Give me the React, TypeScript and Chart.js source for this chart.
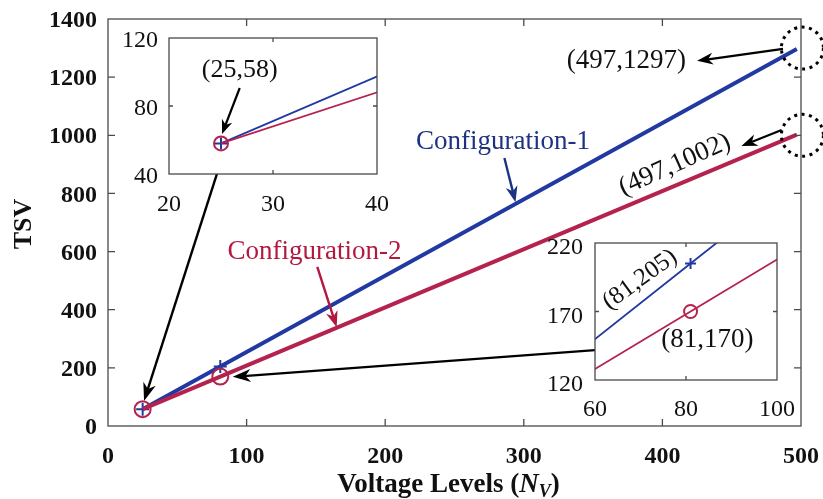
import React, { useEffect, useRef } from "react";
import { Chart, registerables } from "chart.js";

Chart.register(...registerables);

// ---- data ----
const seriesNames = ["Configuration-1", "Configuration-2"];
const voltageLevels = [25, 81, 497];
const tsvConfig1 = [58, 205, 1297];
const tsvConfig2 = [58, 170, 1002];
const markerShown = [true, true, false];

const mainXTicks = [0, 100, 200, 300, 400, 500];
const mainYTicks = [0, 200, 400, 600, 800, 1000, 1200, 1400];
const inset1XTicks = [20, 30, 40];
const inset1YTicks = [40, 80, 120];
const inset2XTicks = [60, 80, 100];
const inset2YTicks = [120, 170, 220];

const xTitle = "Voltage Levels (";
const xTitleVar = "N";
const xTitleSub = "V";
const yTitle = "TSV";

// ---- styles ----
const BLUE = "#2139a0";
const RED = "#b4224d";
const BLUE_TEXT = "#1d3283";
const RED_TEXT = "#b3183e";
const SERIF = '"Liberation Serif", "Times New Roman", serif';
const FRAME = "#4a4a4a";

const pt = (i: number, ys: number[]) => `(${voltageLevels[i]},${ys[i]})`;

function drawArrow(ctx: CanvasRenderingContext2D, x1: number, y1: number, x2: number, y2: number, color: string, lw: number, hl: number, hw: number) {
  const a = Math.atan2(y2 - y1, x2 - x1);
  const c = Math.cos(a), s = Math.sin(a);
  ctx.save();
  ctx.strokeStyle = color;
  ctx.fillStyle = color;
  ctx.lineWidth = lw;
  ctx.beginPath();
  ctx.moveTo(x1, y1);
  ctx.lineTo(x2 - c * hl * 0.6, y2 - s * hl * 0.6);
  ctx.stroke();
  const bx = x2 - c * hl, by = y2 - s * hl;
  ctx.beginPath();
  ctx.moveTo(x2, y2);
  ctx.lineTo(bx - s * hw / 2, by + c * hw / 2);
  ctx.lineTo(x2 - c * hl * 0.7, y2 - s * hl * 0.7);
  ctx.lineTo(bx + s * hw / 2, by - c * hw / 2);
  ctx.closePath();
  ctx.fill();
  ctx.restore();
}

type Note =
  | { kind: "text"; x: number; y: number; text: string; size: number; color: string; rot?: number }
  | { kind: "arrow"; x1: number; y1: number; x2: number; y2: number; color: string; lw: number; hl: number; hw: number }
  | { kind: "ring"; x: number; y: number; r: number };

const mainNotes: Note[] = [
  { kind: "text", x: 374, y: 1256, text: pt(2, tsvConfig1), size: 27, color: "#111" },
  { kind: "arrow", x1: 487, y1: 1297, x2: 425, y2: 1256, color: "#000", lw: 2.2, hl: 16, hw: 12 },
  { kind: "ring", x: 501, y: 1300, r: 21 },
  { kind: "ring", x: 501, y: 1000, r: 21 },
  { kind: "text", x: 409, y: 898, text: pt(2, tsvConfig2), size: 27, color: "#111", rot: -24 },
  { kind: "arrow", x1: 486, y1: 1018, x2: 457, y2: 963, color: "#000", lw: 2.2, hl: 16, hw: 12 },
  { kind: "text", x: 285, y: 977, text: seriesNames[0], size: 27, color: BLUE_TEXT },
  { kind: "arrow", x1: 286, y1: 922, x2: 294, y2: 770, color: BLUE_TEXT, lw: 2.4, hl: 16, hw: 12 },
  { kind: "text", x: 149, y: 598, text: seriesNames[1], size: 27, color: RED_TEXT },
  { kind: "arrow", x1: 151, y1: 547, x2: 165, y2: 340, color: RED_TEXT, lw: 2.4, hl: 16, hw: 12 },
  { kind: "arrow", x1: 78.6, y1: 867, x2: 26, y2: 86, color: "#000", lw: 2.4, hl: 18, hw: 13 },
  { kind: "arrow", x1: 351.4, y1: 261, x2: 90, y2: 169, color: "#000", lw: 2.4, hl: 18, hw: 13 },
];

const inset1Notes: Note[] = [
  { kind: "text", x: 26.8, y: 101, text: pt(0, tsvConfig1), size: 26, color: "#111" },
  { kind: "arrow", x1: 26.8, y1: 90.6, x2: 25.1, y2: 63.6, color: "#000", lw: 2.2, hl: 14, hw: 11 },
];

const inset2Notes: Note[] = [
  { kind: "text", x: 69.9, y: 193.2, text: pt(1, tsvConfig1), size: 25, color: "#111", rot: -36 },
  { kind: "text", x: 84.7, y: 149.3, text: pt(1, tsvConfig2), size: 27, color: "#111" },
];

function makePlugin(notes: Note[], tickLen: number, fillBg: boolean, titles: boolean) {
  return {
    id: "decor",
    beforeDraw(chart: any) {
      if (!fillBg) return;
      const { ctx, chartArea: a } = chart;
      ctx.save();
      ctx.fillStyle = "#fff";
      ctx.fillRect(a.left, a.top, a.width, a.height);
      ctx.restore();
    },
    afterDatasetsDraw(chart: any) {
      const { ctx, chartArea: a, scales } = chart;
      const xs = scales.x, ys = scales.y;
      ctx.save();
      ctx.strokeStyle = FRAME;
      ctx.lineWidth = 1.3;
      ctx.strokeRect(a.left, a.top, a.width, a.height);
      ctx.beginPath();
      xs.ticks.forEach((t: any) => {
        const px = xs.getPixelForValue(t.value);
        if (Math.abs(px - a.left) < 2 || Math.abs(px - a.right) < 2) return;
        ctx.moveTo(px, a.bottom); ctx.lineTo(px, a.bottom - tickLen);
        ctx.moveTo(px, a.top); ctx.lineTo(px, a.top + tickLen);
      });
      ys.ticks.forEach((t: any) => {
        const py = ys.getPixelForValue(t.value);
        if (Math.abs(py - a.top) < 2 || Math.abs(py - a.bottom) < 2) return;
        ctx.moveTo(a.left, py); ctx.lineTo(a.left + tickLen, py);
        ctx.moveTo(a.right, py); ctx.lineTo(a.right - tickLen, py);
      });
      ctx.stroke();
      ctx.restore();

      notes.forEach((n) => {
        if (n.kind === "text") {
          ctx.save();
          ctx.translate(xs.getPixelForValue(n.x), ys.getPixelForValue(n.y));
          if (n.rot) ctx.rotate((n.rot * Math.PI) / 180);
          ctx.font = `${n.size}px ${SERIF}`;
          ctx.fillStyle = n.color;
          ctx.textAlign = "center";
          ctx.textBaseline = "middle";
          ctx.fillText(n.text, 0, 0);
          ctx.restore();
        } else if (n.kind === "arrow") {
          drawArrow(ctx, xs.getPixelForValue(n.x1), ys.getPixelForValue(n.y1), xs.getPixelForValue(n.x2), ys.getPixelForValue(n.y2), n.color, n.lw, n.hl, n.hw);
        } else {
          ctx.save();
          ctx.strokeStyle = "#000";
          ctx.lineWidth = 3;
          ctx.setLineDash([3, 4.5]);
          ctx.beginPath();
          ctx.arc(xs.getPixelForValue(n.x), ys.getPixelForValue(n.y), n.r, 0, Math.PI * 2);
          ctx.stroke();
          ctx.restore();
        }
      });

      if (titles) {
        ctx.save();
        ctx.fillStyle = "#111";
        ctx.textBaseline = "alphabetic";
        const f1 = `bold 27px ${SERIF}`;
        const f2 = `italic bold 27px ${SERIF}`;
        const f3 = `italic bold 18px ${SERIF}`;
        ctx.font = f1; const w1 = ctx.measureText(xTitle).width; const w4 = ctx.measureText(")").width;
        ctx.font = f2; const w2 = ctx.measureText(xTitleVar).width;
        ctx.font = f3; const w3 = ctx.measureText(xTitleSub).width;
        const total = w1 + w2 + w3 + w4;
        let x = (a.left + a.right) / 2 - 6 - total / 2;
        const by = 492;
        ctx.textAlign = "left";
        ctx.font = f1; ctx.fillText(xTitle, x, by); x += w1;
        ctx.font = f2; ctx.fillText(xTitleVar, x, by); x += w2;
        ctx.font = f3; ctx.fillText(xTitleSub, x, by + 5); x += w3;
        ctx.font = f1; ctx.fillText(")", x, by);
        ctx.translate(24, 224);
        ctx.rotate(-Math.PI / 2);
        ctx.textAlign = "center";
        ctx.textBaseline = "middle";
        ctx.font = `bold 26px ${SERIF}`;
        ctx.fillText(yTitle, 0, 0);
        ctx.restore();
      }
    },
  };
}

function buildConfig(opts: {
  xMin: number; xMax: number; yMin: number; yMax: number;
  xTicks: number[]; yTicks: number[];
  yWidth: number; xHeight: number; padTop: number; padRight: number;
  lineW: number; markR: number; crossR: number; tickFont: any; xPad: number; yPad: number; yLabelShift: number;
  notes: Note[]; tickLen: number; fillBg: boolean; titles: boolean;
}) {
  const mk = (ys: number[]) => voltageLevels.map((x, i) => ({ x, y: ys[i] }));
  const radii = markerShown.map((m) => (m ? opts.markR : 0));
  const crossRadii = markerShown.map((m) => (m ? opts.crossR : 0));
  const zeroPad = (s: any) => { s.paddingLeft = 0; s.paddingRight = 0; s.paddingTop = 0; s.paddingBottom = 0; };
  return {
    type: "line" as const,
    data: {
      datasets: [
        {
          label: seriesNames[0], data: mk(tsvConfig1), borderColor: BLUE, borderWidth: opts.lineW,
          pointStyle: "cross", pointRadius: crossRadii, pointBorderColor: BLUE, pointBorderWidth: 2,
          pointBackgroundColor: BLUE, order: 2, tension: 0,
        },
        {
          label: seriesNames[1], data: mk(tsvConfig2), borderColor: RED, borderWidth: opts.lineW,
          pointStyle: "circle", pointRadius: radii, pointBorderColor: RED, pointBorderWidth: 2,
          pointBackgroundColor: "rgba(0,0,0,0)", order: 1, tension: 0,
        },
      ],
    },
    options: {
      responsive: false, animation: false as const, devicePixelRatio: 1,
      layout: { padding: { top: opts.padTop, right: opts.padRight, left: 0, bottom: 0 } },
      plugins: { legend: { display: false }, tooltip: { enabled: false } },
      scales: {
        x: {
          type: "linear" as const, min: opts.xMin, max: opts.xMax,
          afterBuildTicks: (s: any) => { s.ticks = opts.xTicks.map((v) => ({ value: v })); },
          afterFit: (s: any) => { s.height = opts.xHeight; zeroPad(s); },
          grid: { display: false, drawTicks: false }, border: { display: false },
          ticks: { font: opts.tickFont, color: "#111", padding: opts.xPad, maxRotation: 0, autoSkip: false, callback: (v: any) => String(v) },
        },
        y: {
          type: "linear" as const, min: opts.yMin, max: opts.yMax,
          afterBuildTicks: (s: any) => { s.ticks = opts.yTicks.map((v) => ({ value: v })); },
          afterFit: (s: any) => { s.width = opts.yWidth; zeroPad(s); },
          grid: { display: false, drawTicks: false }, border: { display: false },
          ticks: { font: opts.tickFont, color: "#111", padding: opts.yPad, labelOffset: opts.yLabelShift, autoSkip: false, callback: (v: any) => String(v) },
        },
      },
    },
    plugins: [makePlugin(opts.notes, opts.tickLen, opts.fillBg, opts.titles)],
  };
}

export default function App() {
  const mainRef = useRef<HTMLCanvasElement>(null);
  const in1Ref = useRef<HTMLCanvasElement>(null);
  const in2Ref = useRef<HTMLCanvasElement>(null);

  useEffect(() => {
    const charts: Chart[] = [];
    const bold = { family: SERIF, size: 24, weight: "bold" };
    const reg = { family: SERIF, size: 24 };
    charts.push(new Chart(mainRef.current!, buildConfig({
      xMin: 0, xMax: 500, yMin: 0, yMax: 1400, xTicks: mainXTicks, yTicks: mainYTicks,
      yWidth: 108, xHeight: 73, padTop: 19, padRight: 22, lineW: 4, markR: 8, crossR: 6.5,
      tickFont: bold, xPad: 16, yPad: 11, yLabelShift: 2, notes: mainNotes, tickLen: 7, fillBg: false, titles: true,
    }) as any));
    charts.push(new Chart(in1Ref.current!, buildConfig({
      xMin: 20, xMax: 40, yMin: 40, yMax: 120, xTicks: inset1XTicks, yTicks: inset1YTicks,
      yWidth: 69, xHeight: 46, padTop: 20, padRight: 23, lineW: 1.8, markR: 7, crossR: 6,
      tickFont: reg, xPad: 16, yPad: 11, yLabelShift: 3, notes: inset1Notes, tickLen: 4, fillBg: true, titles: false,
    }) as any));
    charts.push(new Chart(in2Ref.current!, buildConfig({
      xMin: 60, xMax: 100, yMin: 120, yMax: 220, xTicks: inset2XTicks, yTicks: inset2YTicks,
      yWidth: 70, xHeight: 50, padTop: 20, padRight: 38, lineW: 1.8, markR: 6.5, crossR: 5.5,
      tickFont: reg, xPad: 15, yPad: 12, yLabelShift: 5, notes: inset2Notes, tickLen: 4, fillBg: true, titles: false,
    }) as any));
    return () => charts.forEach((c) => c.destroy());
  }, []);

  return (
    <div style={{ position: "absolute", left: 0, top: 0, width: 823, height: 499, background: "#fff", overflow: "hidden" }}>
      <canvas ref={mainRef} width={823} height={499} style={{ position: "absolute", left: 0, top: 0 }} />
      <canvas ref={in1Ref} width={300} height={202} style={{ position: "absolute", left: 100, top: 18 }} />
      <canvas ref={in2Ref} width={290} height={207} style={{ position: "absolute", left: 525, top: 223 }} />
    </div>
  );
}
